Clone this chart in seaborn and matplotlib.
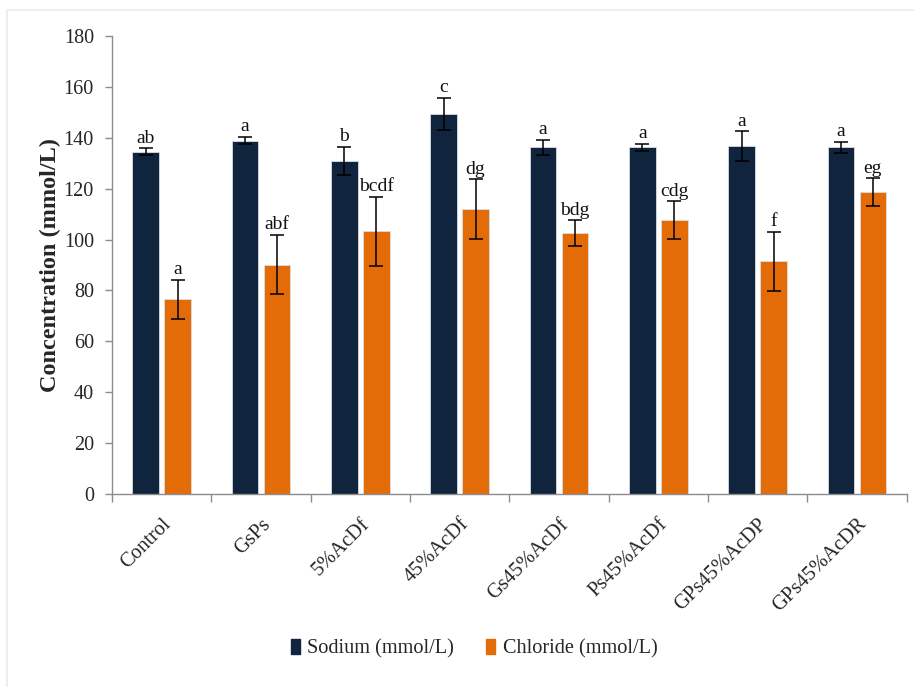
import matplotlib
matplotlib.use("Agg")
import matplotlib.pyplot as plt
import seaborn as sns
import pandas as pd
from matplotlib.patches import Rectangle

# Treatment groups and measured electrolyte concentrations (mmol/L)
categories = ["Control", "GsPs", "5%AcDf", "45%AcDf", "Gs45%AcDf",
              "Ps45%AcDf", "GPs45%AcDP", "GPs45%AcDR"]
sodium = [134.5, 138.9, 130.9, 149.4, 136.3, 136.3, 136.7, 136.3]
sodium_err = [1.3, 1.5, 5.5, 6.3, 3.0, 1.4, 5.8, 2.2]
chloride = [76.5, 90.1, 103.2, 112.0, 102.5, 107.7, 91.5, 118.6]
chloride_err = [7.6, 11.7, 13.5, 11.6, 5.0, 7.4, 11.6, 5.4]
sodium_letters = ["ab", "a", "b", "c", "a", "a", "a", "a"]
chloride_letters = ["a", "abf", "bcdf", "dg", "bdg", "cdg", "f", "eg"]
series_names = ["Sodium (mmol/L)", "Chloride (mmol/L)"]
yticks = [0, 20, 40, 60, 80, 100, 120, 140, 160, 180]

navy = "#10243E"
orange = "#E36C09"
spine_grey = "#8C8C8C"

sns.set_style("white")
plt.rcParams["font.family"] = ["Liberation Serif", "DejaVu Serif"]

df = pd.DataFrame({
    "Group": categories * 2,
    "Series": [series_names[0]] * len(categories) + [series_names[1]] * len(categories),
    "Value": sodium + chloride,
})

fig = plt.figure(figsize=(9.14, 6.87), dpi=100)
ax = fig.add_axes([0.1225, 0.281, 0.8695, 0.6666])

# Light outer frame of the chart area
fig.patches.append(Rectangle((7 / 914, -0.05), 1.2, 1 - 10 / 687 + 0.05,
                             transform=fig.transFigure, fill=False,
                             edgecolor="#EEEEEE", linewidth=1.5, zorder=0))

sns.barplot(data=df, x="Group", y="Value", hue="Series", order=categories,
            hue_order=series_names, palette=[navy, orange], saturation=1,
            width=0.64, gap=0.16, errorbar=None, ax=ax, legend=True,
            linewidth=0.6, edgecolor="#D9DDE3")

for container, errs, letters in zip(ax.containers,
                                    [sodium_err, chloride_err],
                                    [sodium_letters, chloride_letters]):
    xs = [b.get_x() + b.get_width() / 2 for b in container]
    hs = [b.get_height() for b in container]
    ax.errorbar(xs, hs, yerr=errs, fmt="none", ecolor="black",
                elinewidth=1.1, capsize=5, capthick=1.1, zorder=5)
    for x, h, e, lab in zip(xs, hs, errs, letters):
        ax.annotate(lab, (x, h + e), xytext=(0, 4), textcoords="offset points",
                    ha="center", va="baseline", fontsize=14, color="#111111")

ax.set_ylim(0, 180)
ax.set_yticks(yticks)
ax.set_xlim(-0.5, len(categories) - 0.5)
ax.set_xlabel("")
ax.set_ylabel("Concentration (mmol/L)", fontsize=17.5, fontweight="bold",
              labelpad=2)

for side in ["top", "right"]:
    ax.spines[side].set_visible(False)
for side in ["left", "bottom"]:
    ax.spines[side].set_color(spine_grey)
    ax.spines[side].set_linewidth(1.0)

ax.tick_params(axis="y", direction="out", length=5, width=1, color=spine_grey,
               labelsize=14.5, pad=8, left=True)
# Category ticks sit on the boundaries between groups
ax.set_xticks([i for i in range(len(categories))])
ax.set_xticklabels(categories, rotation=45, ha="right", rotation_mode="anchor",
                   fontsize=14.8)
ax.tick_params(axis="x", length=0, pad=15)
ax.set_xticks([i - 0.5 for i in range(len(categories) + 1)], minor=True)
ax.tick_params(axis="x", which="minor", direction="out", length=6, width=1,
               color=spine_grey, bottom=True)

ax.legend_.remove()
handles = [Rectangle((0, 0), 1, 1, color=navy), Rectangle((0, 0), 1, 1, color=orange)]
fig.legend(handles, series_names, loc="center", ncol=2,
           bbox_to_anchor=(474 / 914, 1 - 649 / 687), frameon=False,
           fontsize=14.6, handlelength=0.45, handleheight=0.7,
           handletextpad=0.35, columnspacing=1.6)

fig.savefig("out.png", dpi=100, facecolor="white")
